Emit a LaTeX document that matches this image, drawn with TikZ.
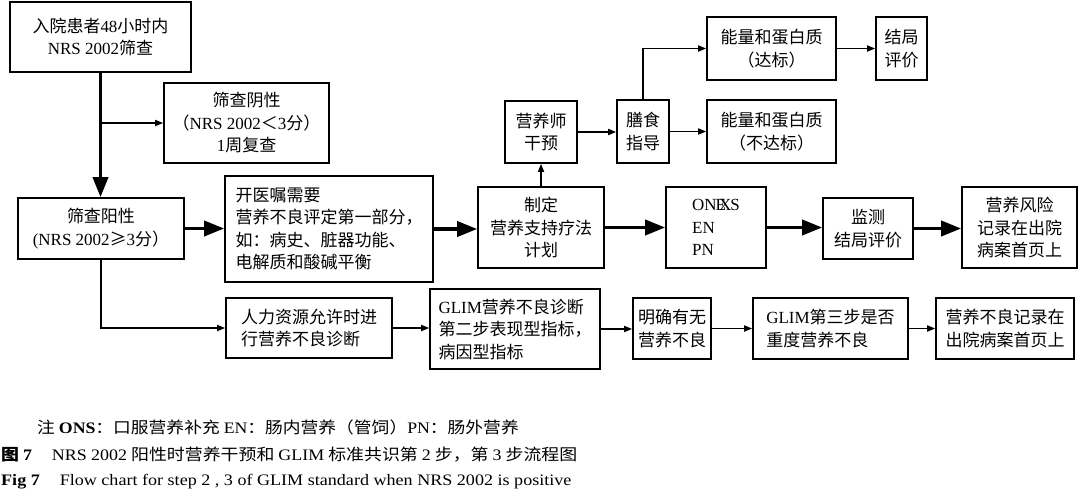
\documentclass[tikz,border=0pt]{standalone}
\usepackage{fontspec}
\usepackage{graphicx}
\setmainfont{Noto Sans CJK SC}
\newfontfamily\en{Liberation Serif}
\usetikzlibrary{arrows.meta}
\tikzset{
  box/.style={draw, line width=1.6pt, inner sep=0pt, align=center, font=\fontsize{17}{22.5}\selectfont},
  boxl/.style={box, align=left},
  thk/.style={line width=3.5pt, -{Triangle[length=20pt,width=15pt]}},
  thn/.style={line width=1.6pt, -{Triangle[length=8pt,width=6pt]}},
  captxt/.style={anchor=west, inner sep=0pt, font=\fontsize{16}{16}\selectfont},
}
\begin{document}
\begin{tikzpicture}[x=1pt,y=-1pt]
\useasboundingbox (0,0) rectangle (1080,490);
% top-left column
\node[box, minimum width=181, minimum height=70] (A) at (100.5,37) {入院患者{\en 48}小时内\\{\en NRS 2002}筛查};
\node[box, minimum width=165, minimum height=80] (B) at (246.5,123) {筛查阴性\\（{\en NRS 2002}＜{\en 3}分）\\{\en 1}周复查};
\node[box, minimum width=166, minimum height=61] (C) at (101,228.5) {筛查阳性\\{\en (NRS 2002}≥{\en 3}分）};
\node[boxl, minimum width=208, minimum height=106] (D) at (329,229) {开医嘱需要\\营养不良评定第一部分，\\如：病史、脏器功能、\\电解质和酸碱平衡};
% middle row
\node[box, minimum width=126, minimum height=81] (E) at (541,227.5) {制定\\营养支持疗法\\计划};
\node[box, minimum width=72, minimum height=62] (F) at (541,132) {营养师\\干预};
\node[box, minimum width=52, minimum height=63] (G) at (643,131.5) {膳食\\指导};
\node[box, minimum width=129, minimum height=63] (H) at (771.5,48.5) {能量和蛋白质\\（达标）};
\node[box, minimum width=51, minimum height=63] (I) at (901.5,48.5) {结局\\评价};
\node[box, minimum width=129, minimum height=63] (J) at (771.5,131.5) {能量和蛋白质\\（不达标）};
\node[boxl, minimum width=100, minimum height=81] (K) at (716,227.5) {{\en ON\kern-1pt E\kern-7pt X\kern-1pt S}\\{\en EN}\\{\en PN}};
\node[box, minimum width=90, minimum height=61] (L) at (868,228.5) {监测\\结局评价};
\node[box, minimum width=115, minimum height=81] (M) at (1019.5,227.5) {营养风险\\记录在出院\\病案首页上};
% bottom row
\node[boxl, minimum width=166, minimum height=60] (N) at (309,328) {人力资源允许时进\\行营养不良诊断};
\node[boxl, minimum width=170, minimum height=80] (O) at (515,329) {{\en GLIM}营养不良诊断\\第二步表现型指标，\\病因型指标};
\node[box, minimum width=78, minimum height=61] (P) at (672,328.5) {明确有无\\营养不良};
\node[boxl, minimum width=155, minimum height=61] (Q) at (830.5,328.5) {{\en GLIM}第三步是否\\重度营养不良};
\node[box, minimum width=138, minimum height=61] (R) at (1005,328.5) {营养不良记录在\\出院病案首页上};
% connectors
\draw[thk] (A.south) -- (A.south |- C.north);
\draw[thn] (A.south |- B.west) -- (B.west);
\draw[thk] (C.east) -- (C.east -| D.west);
\draw[thk] (D.east) -- (D.east -| E.west);
\draw[thn] (E.north) -- (F.south);
\draw[thn] (F.east) -- (F.east -| G.west);
\draw[thn] (G.north) |- (H.west);
\draw[thn] (G.east) -- (G.east -| J.west);
\draw[thn] (H.east) -- (I.west);
\draw[thk] (E.east) -- (K.west);
\draw[thk] (K.east) -- (K.east -| L.west);
\draw[thk] (L.east) -- (L.east -| M.west);
\draw[thn] (C.south) |- (N.west);
\draw[thn] (N.east) -- (N.east -| O.west);
\draw[thn] (O.east) -- (O.east -| P.west);
\draw[thn] (P.east) -- (P.east -| Q.west);
\draw[thn] (Q.east) -- (Q.east -| R.west);
% captions
\node[captxt] (n1) at (37,427) {\scalebox{1.11}[1]{注 {\en\bfseries ONS}：口服营养补充 {\en EN}：肠内营养（管饲）{\en PN}：肠外营养}};
\node[captxt] (n2) at (1,455) {\scalebox{1.12}[1]{{\bfseries 图 {\en 7}}\hspace{1.1em}{\en NRS 2002} 阳性时营养干预和 {\en GLIM} 标准共识第 {\en 2} 步，第 {\en 3} 步流程图}};
\node[captxt] (n3) at (1,482) {\scalebox{1.13}[1]{\en{\bfseries Fig 7}\hspace{1.1em}Flow chart for step 2 , 3 of GLIM standard when NRS 2002 is positive}};
\end{tikzpicture}
\end{document}
